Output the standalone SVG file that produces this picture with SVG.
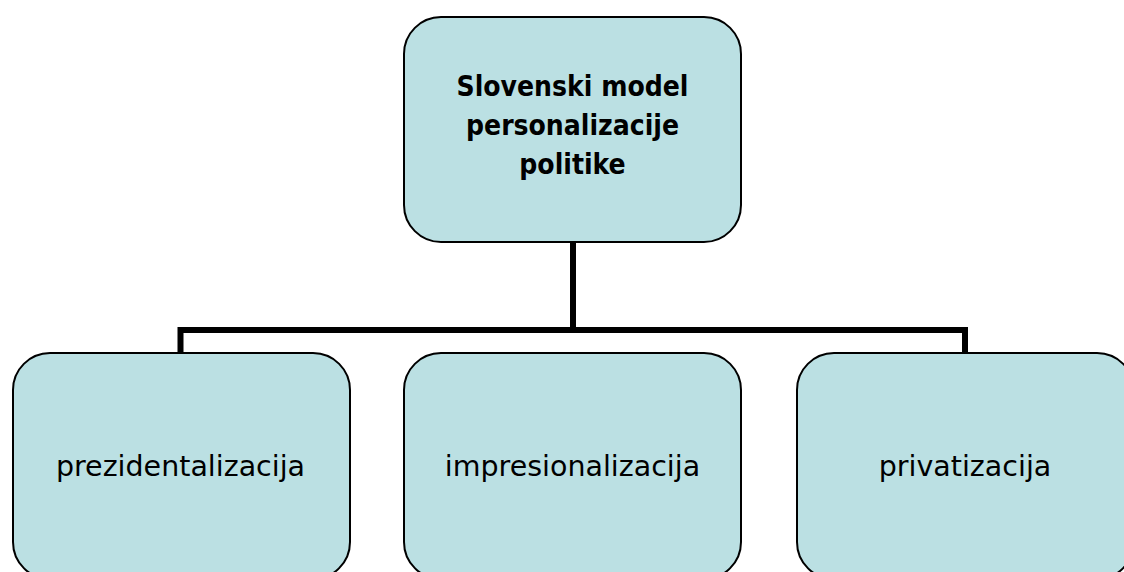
<svg xmlns="http://www.w3.org/2000/svg" width="1124" height="572" viewBox="0 0 1124 572">
<style>
.box{fill:#bbe0e3;stroke:#000;stroke-width:2}
.t{font-family:"DejaVu Sans",Verdana,sans-serif;fill:#000;text-anchor:middle}
.b{font-family:"DejaVu Sans Condensed","DejaVu Sans",sans-serif;font-weight:bold;font-size:28px}
.n{font-size:28.5px}
.c{fill:none;stroke:#000;stroke-width:6}
</style>
<rect width="1124" height="572" fill="#fff"/>
<g id="connectors">
<path class="c" d="M573 242V330M180.5 353V330H965V353"/>
</g>
<g id="root">
<rect class="box" x="404" y="17" width="337" height="225" rx="37"/>
<text class="t b" x="572.5" y="96">Slovenski model</text>
<text class="t b" x="572.5" y="135">personalizacije</text>
<text class="t b" x="572.5" y="174">politike</text>
</g>
<g id="n1">
<rect class="box" x="13" y="353" width="337" height="226" rx="37"/>
<text class="t n" x="180.5" y="476">prezidentalizacija</text>
</g>
<g id="n2">
<rect class="box" x="404" y="353" width="337" height="226" rx="37"/>
<text class="t n" x="572.5" y="476">impresionalizacija</text>
</g>
<g id="n3">
<rect class="box" x="797" y="353" width="337" height="226" rx="37"/>
<text class="t n" x="965" y="476">privatizacija</text>
</g>
</svg>
